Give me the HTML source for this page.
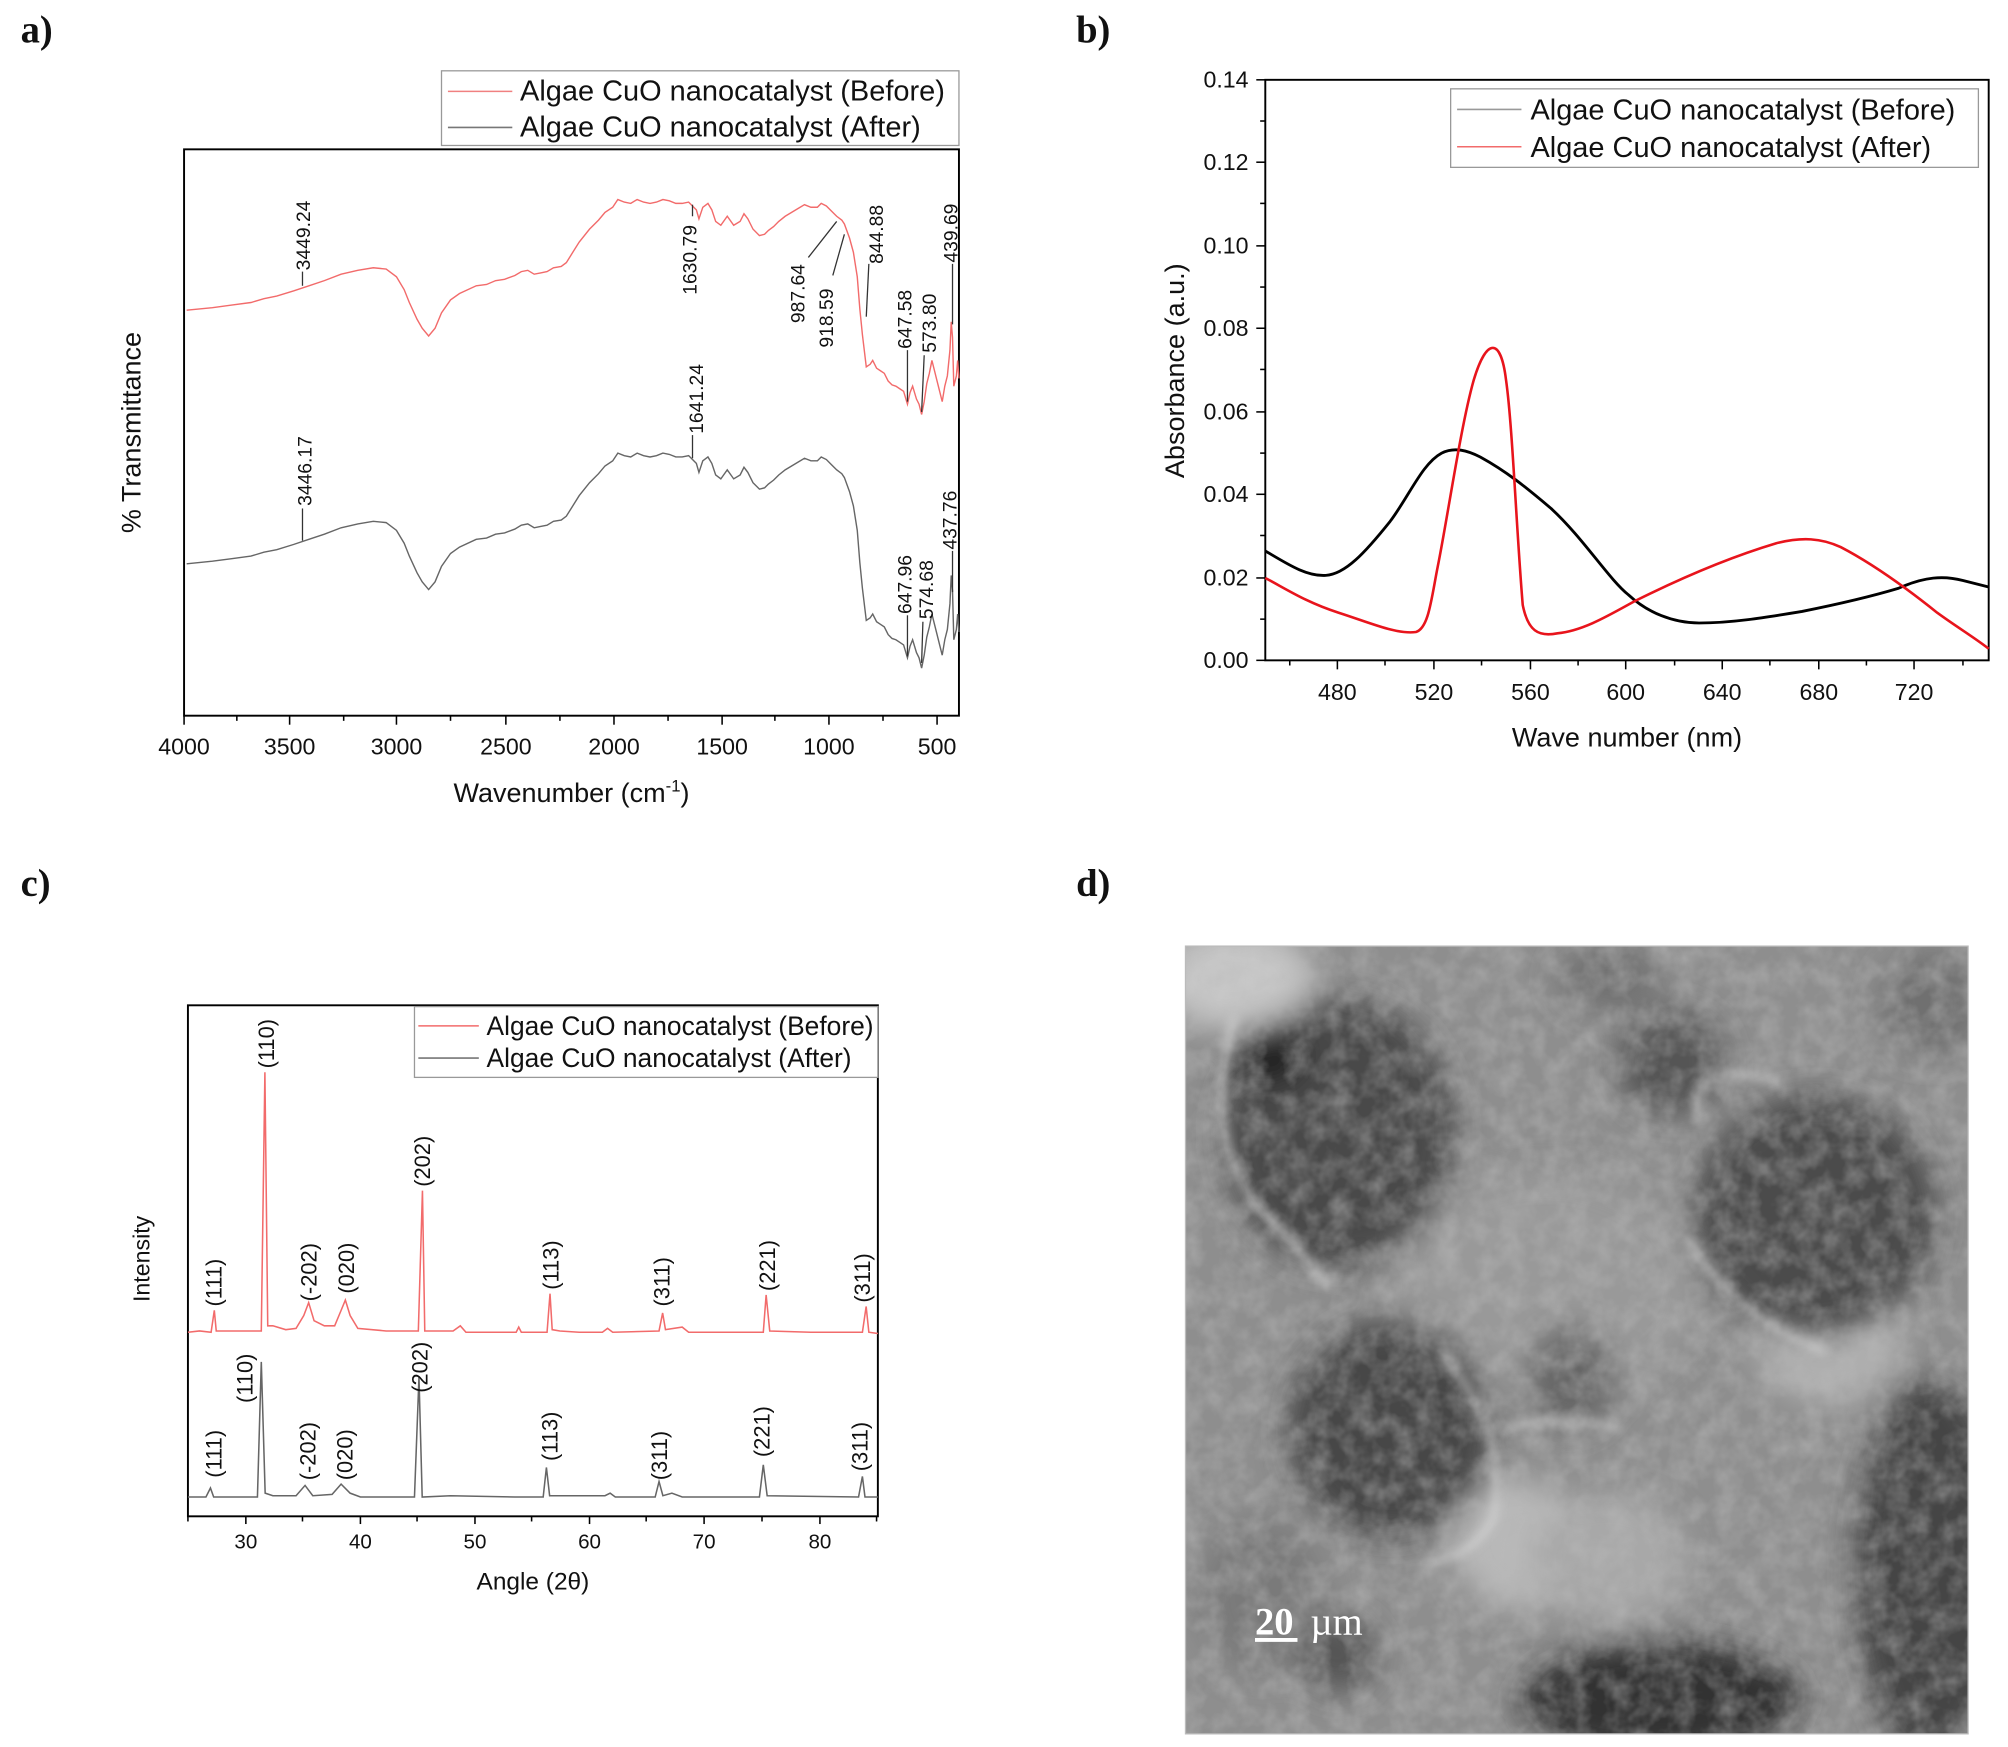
<!DOCTYPE html>
<html><head><style>
html,body{margin:0;padding:0;background:#fff;}
svg{display:block;}
text{font-family:"Liberation Sans",Arial,sans-serif;fill:#111;}
.pl{font-family:"Liberation Serif",serif;font-weight:bold;font-size:30px;}
.tk{font-size:18px;}
.ti{font-size:21px;}
.lg{font-size:22.5px;}
.an{font-size:15px;}
.xa{font-size:19px;}
</style></head><body>
<svg width="2008" height="1747" viewBox="0 0 1560 1357.2" xmlns="http://www.w3.org/2000/svg">
<defs>
<filter id="bl" x="-50%" y="-50%" width="200%" height="200%"><feGaussianBlur stdDeviation="12"/></filter>
<filter id="bl2" x="-50%" y="-50%" width="200%" height="200%"><feGaussianBlur stdDeviation="4"/></filter>
<filter id="noise" x="0" y="0" width="100%" height="100%">
<feTurbulence type="fractalNoise" baseFrequency="0.06" numOctaves="3" seed="4"/>
<feColorMatrix type="matrix" values="0 0 0 0 0.5  0 0 0 0 0.5  0 0 0 0 0.5  1.4 0 0 0 -0.45"/>
</filter>
<clipPath id="cd"><rect x="921" y="735" width="608" height="612"/></clipPath>
<path id="ftir" fill="none" d="M145,241 L165,239 L180,237 L195,235 L205,232 L215,230 L228,226 L240,222 L252,218 L265,213 L278,210 L290,208 L300,209 L308,215 L314,225 L318,235 L324,248 L328,255 L333,261 L338,255 L343,243 L350,233 L357,228 L370,222 L378,221 L385,218 L392,217 L400,214 L405,211 L410,210 L415,213 L420,212 L425,211 L430,208 L436,207 L440,204 L445,196 L450,188 L458,178 L465,171 L470,165 L476,161 L480,155 L485,157 L490,158 L495,155 L500,157 L505,158 L510,157 L515,155 L520,156 L525,158 L530,158 L535,157 L538,160 L541,163 L543,170 L546,161 L550,158 L553,163 L556,172 L560,175 L565,168 L570,175 L575,172 L578,166 L581,170 L585,178 L590,183 L594,182 L597,179 L601,176 L605,172 L610,168 L615,165 L620,162 L625,159 L630,161 L635,161 L638,158 L642,160 L646,164 L650,168 L654,171 L656,174 L660,185 L663,196 L666,215 L668,240 L670,260 L673,285 L676,283 L678,280 L681,286 L684,288 L687,290 L690,296 L693,299 L696,300 L699,302 L702,304 L705,314 L707,305 L709,300 L712,310 L714,314 L716,322 L718,312 L720,298 L722,290 L724,280 L726,288 L728,296 L730,304 L732,312 L734,300 L736,292 L738,272 L739,250 L740,262 L741,300 L743,292 L744,280 L745,294"/>
</defs>
<rect width="1560" height="1357.2" fill="#fff"/>
<text class="pl" x="16" y="33">a)</text>
<text class="pl" x="836" y="33">b)</text>
<text class="pl" x="16" y="696">c)</text>
<text class="pl" x="836" y="696">d)</text>

<!-- Panel a -->
<rect x="143" y="116" width="602" height="440" fill="none" stroke="#000" stroke-width="1.5"/>
<g stroke="#000" stroke-width="1.2">
<line x1="143" y1="556" x2="143" y2="563"/><line x1="225" y1="556" x2="225" y2="563"/><line x1="308" y1="556" x2="308" y2="563"/><line x1="393" y1="556" x2="393" y2="563"/><line x1="477" y1="556" x2="477" y2="563"/><line x1="561" y1="556" x2="561" y2="563"/><line x1="644" y1="556" x2="644" y2="563"/><line x1="728" y1="556" x2="728" y2="563"/>
<line x1="184" y1="556" x2="184" y2="560"/><line x1="267" y1="556" x2="267" y2="560"/><line x1="350" y1="556" x2="350" y2="560"/><line x1="435" y1="556" x2="435" y2="560"/><line x1="519" y1="556" x2="519" y2="560"/><line x1="602" y1="556" x2="602" y2="560"/><line x1="686" y1="556" x2="686" y2="560"/>
</g>
<g class="tk" text-anchor="middle">
<text x="143" y="586">4000</text><text x="225" y="586">3500</text><text x="308" y="586">3000</text><text x="393" y="586">2500</text><text x="477" y="586">2000</text><text x="561" y="586">1500</text><text x="644" y="586">1000</text><text x="728" y="586">500</text>
</g>
<text class="ti" x="444" y="623" text-anchor="middle">Wavenumber (cm<tspan font-size="13" dy="-8">-1</tspan><tspan dy="8">)</tspan></text>
<text class="ti" transform="rotate(-90 109 336)" x="109" y="336" text-anchor="middle">% Transmittance</text>
<rect x="343" y="55" width="402" height="58" fill="#fff" stroke="#999" stroke-width="1"/>
<line x1="348" y1="71" x2="398" y2="71" stroke="#f08080" stroke-width="1.2"/>
<line x1="348" y1="99" x2="398" y2="99" stroke="#777" stroke-width="1.2"/>
<text class="lg" x="404" y="78">Algae CuO nanocatalyst (Before)</text>
<text class="lg" x="404" y="106">Algae CuO nanocatalyst (After)</text>
<use href="#ftir" stroke="#f26b6b" stroke-width="1.1"/>
<use href="#ftir" transform="translate(0,197)" stroke="#666" stroke-width="1.1"/>
<g stroke="#333" stroke-width="1">
<line x1="235" y1="222" x2="235" y2="211"/><line x1="538" y1="159" x2="538" y2="168"/>
<line x1="628" y1="200" x2="650" y2="172"/><line x1="647" y1="214" x2="656" y2="182"/>
<line x1="673" y1="246" x2="675" y2="205"/><line x1="705" y1="312" x2="705" y2="272"/>
<line x1="716" y1="320" x2="718" y2="276"/><line x1="740" y1="252" x2="740" y2="205"/>
<line x1="235" y1="420" x2="235" y2="395"/><line x1="538" y1="356" x2="538" y2="338"/>
<line x1="705" y1="510" x2="705" y2="478"/><line x1="716" y1="515" x2="717" y2="483"/><line x1="740" y1="460" x2="740" y2="428"/>
</g>
<g class="an">
<text transform="rotate(-90 241 210)" x="241" y="210">3449.24</text>
<text transform="rotate(-90 541 229)" x="541" y="229">1630.79</text>
<text transform="rotate(-90 625 251)" x="625" y="251">987.64</text>
<text transform="rotate(-90 647 270)" x="647" y="270">918.59</text>
<text transform="rotate(-90 686 205)" x="686" y="205">844.88</text>
<text transform="rotate(-90 708 271)" x="708" y="271">647.58</text>
<text transform="rotate(-90 727 274)" x="727" y="274">573.80</text>
<text transform="rotate(-90 744 204)" x="744" y="204">439.69</text>
<text transform="rotate(-90 242 393)" x="242" y="393">3446.17</text>
<text transform="rotate(-90 546 337)" x="546" y="337">1641.24</text>
<text transform="rotate(-90 708 477)" x="708" y="477">647.96</text>
<text transform="rotate(-90 725 481)" x="725" y="481">574.68</text>
<text transform="rotate(-90 743 427)" x="743" y="427">437.76</text>
</g>

<!-- Panel b -->
<rect x="983" y="62" width="562" height="451" fill="none" stroke="#000" stroke-width="1.5"/>
<g stroke="#000" stroke-width="1.2">
<line x1="976" y1="513" x2="983" y2="513"/><line x1="976" y1="449" x2="983" y2="449"/><line x1="976" y1="384" x2="983" y2="384"/><line x1="976" y1="320" x2="983" y2="320"/><line x1="976" y1="255" x2="983" y2="255"/><line x1="976" y1="191" x2="983" y2="191"/><line x1="976" y1="126" x2="983" y2="126"/><line x1="976" y1="62" x2="983" y2="62"/>
<line x1="979" y1="481" x2="983" y2="481"/><line x1="979" y1="416" x2="983" y2="416"/><line x1="979" y1="352" x2="983" y2="352"/><line x1="979" y1="287" x2="983" y2="287"/><line x1="979" y1="223" x2="983" y2="223"/><line x1="979" y1="158" x2="983" y2="158"/><line x1="979" y1="94" x2="983" y2="94"/>
<line x1="1039" y1="513" x2="1039" y2="520"/><line x1="1114" y1="513" x2="1114" y2="520"/><line x1="1189" y1="513" x2="1189" y2="520"/><line x1="1263" y1="513" x2="1263" y2="520"/><line x1="1338" y1="513" x2="1338" y2="520"/><line x1="1413" y1="513" x2="1413" y2="520"/><line x1="1487" y1="513" x2="1487" y2="520"/>
<line x1="1002" y1="513" x2="1002" y2="517"/><line x1="1076" y1="513" x2="1076" y2="517"/><line x1="1151" y1="513" x2="1151" y2="517"/><line x1="1226" y1="513" x2="1226" y2="517"/><line x1="1301" y1="513" x2="1301" y2="517"/><line x1="1375" y1="513" x2="1375" y2="517"/><line x1="1450" y1="513" x2="1450" y2="517"/><line x1="1525" y1="513" x2="1525" y2="517"/>
</g>
<g class="tk" text-anchor="end">
<text x="970" y="519">0.00</text><text x="970" y="455">0.02</text><text x="970" y="390">0.04</text><text x="970" y="326">0.06</text><text x="970" y="261">0.08</text><text x="970" y="197">0.10</text><text x="970" y="132">0.12</text><text x="970" y="68">0.14</text>
</g>
<g class="tk" text-anchor="middle">
<text x="1039" y="544">480</text><text x="1114" y="544">520</text><text x="1189" y="544">560</text><text x="1263" y="544">600</text><text x="1338" y="544">640</text><text x="1413" y="544">680</text><text x="1487" y="544">720</text>
</g>
<text class="ti" x="1264" y="580" text-anchor="middle">Wave number (nm)</text>
<text class="ti" transform="rotate(-90 920 288)" x="920" y="288" text-anchor="middle">Absorbance (a.u.)</text>
<rect x="1127" y="69" width="410" height="61" fill="#fff" stroke="#999" stroke-width="1"/>
<line x1="1132" y1="85" x2="1182" y2="85" stroke="#999" stroke-width="1.2"/>
<line x1="1132" y1="114" x2="1182" y2="114" stroke="#f26b6b" stroke-width="1.2"/>
<text class="lg" x="1189" y="93">Algae CuO nanocatalyst (Before)</text>
<text class="lg" x="1189" y="122">Algae CuO nanocatalyst (After)</text>
<path fill="none" stroke="#000" stroke-width="2.2" d="M983,428 C1000,438 1015,448 1030,447 C1045,446 1060,430 1080,405 C1095,385 1105,360 1120,352 C1130,347 1140,350 1150,355 C1170,366 1185,378 1205,395 C1230,418 1250,450 1265,462 C1280,476 1300,484 1320,484 C1345,484 1370,480 1400,475 C1430,469 1455,463 1475,457 C1495,448 1510,447 1525,451 L1545,456"/>
<path fill="none" stroke="#e8141c" stroke-width="2" d="M983,449 C1000,458 1015,468 1040,476 C1065,484 1085,493 1100,491 C1110,488 1112,465 1117,440 C1125,400 1135,330 1145,295 C1155,262 1166,262 1170,295 C1175,330 1178,410 1183,470 C1187,490 1195,495 1210,492 C1230,490 1250,478 1270,467 C1300,452 1340,434 1380,422 C1400,417 1415,418 1430,425 C1455,438 1480,456 1505,476 C1520,487 1535,496 1545,504"/>

<!-- Panel c -->
<rect x="146" y="781" width="536" height="397" fill="none" stroke="#000" stroke-width="1.5"/>
<g stroke="#000" stroke-width="1.2">
<line x1="191" y1="1178" x2="191" y2="1184"/><line x1="280" y1="1178" x2="280" y2="1184"/><line x1="369" y1="1178" x2="369" y2="1184"/><line x1="458" y1="1178" x2="458" y2="1184"/><line x1="547" y1="1178" x2="547" y2="1184"/><line x1="637" y1="1178" x2="637" y2="1184"/>
<line x1="146" y1="1178" x2="146" y2="1182"/><line x1="235" y1="1178" x2="235" y2="1182"/><line x1="324" y1="1178" x2="324" y2="1182"/><line x1="413" y1="1178" x2="413" y2="1182"/><line x1="502" y1="1178" x2="502" y2="1182"/><line x1="592" y1="1178" x2="592" y2="1182"/><line x1="681" y1="1178" x2="681" y2="1182"/>
</g>
<g class="xa" text-anchor="middle" style="font-size:16px">
<text x="191" y="1203">30</text><text x="280" y="1203">40</text><text x="369" y="1203">50</text><text x="458" y="1203">60</text><text x="547" y="1203">70</text><text x="637" y="1203">80</text>
</g>
<text class="ti" style="font-size:19px" x="414" y="1235" text-anchor="middle">Angle (2θ)</text>
<text class="ti" style="font-size:18px" transform="rotate(-90 116 978)" x="116" y="978" text-anchor="middle">Intensity</text>
<rect x="322" y="782" width="360" height="55" fill="#fff" stroke="#999" stroke-width="1"/>
<line x1="325" y1="797" x2="372" y2="797" stroke="#f26b6b" stroke-width="1.2"/>
<line x1="325" y1="822" x2="372" y2="822" stroke="#777" stroke-width="1.2"/>
<text class="lg" style="font-size:20.5px" x="378" y="804">Algae CuO nanocatalyst (Before)</text>
<text class="lg" style="font-size:20.5px" x="378" y="829">Algae CuO nanocatalyst (After)</text>
<path fill="none" stroke="#f26b6b" stroke-width="1.2" d="M146,1035 L155,1034 L164,1035 L166.5,1018 L168,1034 L185,1034 L203,1034 L205.8,833 L208,1030 L212,1030 L222,1033 L230,1032 L236,1022 L239.8,1012 L244,1026 L252,1030 L260,1030 L265,1018 L268.3,1010 L272,1022 L278,1032 L300,1034 L325,1034 L328.2,925 L330,1034 L352,1034 L357.6,1030 L362,1035 L401,1035 L403,1031 L405,1035 L425,1035 L427.3,1005 L429,1033 L435,1034 L450,1035 L468,1035 L472,1032 L476,1035 L512,1034 L514.8,1020 L517,1033 L530,1031 L535,1035 L560,1035 L593,1035 L595.2,1006 L598,1034 L630,1035 L670,1035 L672.9,1015 L675,1035 L682,1036"/>
<path fill="none" stroke="#666" stroke-width="1.2" d="M146,1163 L160,1163 L163.5,1156 L166,1163 L200,1163 L203,1058 L206,1160 L212,1162 L230,1162 L237,1154 L243,1162 L258,1161 L265,1153 L272,1160 L280,1163 L322,1163 L325.5,1070 L328,1163 L350,1162 L400,1163 L422,1163 L424.5,1140 L427,1162 L470,1162 L474,1160 L478,1163 L509,1163 L512,1151 L515,1162 L522,1160 L530,1163 L590,1163 L593,1138 L596,1162 L667,1163 L670,1147 L672,1163 L682,1163"/>
<g class="an" style="font-size:17px">
<text transform="rotate(-90 172 1015)" x="172" y="1015">(111)</text>
<text transform="rotate(-90 213 830)" x="213" y="830">(110)</text>
<text transform="rotate(-90 246 1011)" x="246" y="1011">(-202)</text>
<text transform="rotate(-90 275 1005)" x="275" y="1005">(020)</text>
<text transform="rotate(-90 334 922)" x="334" y="922">(202)</text>
<text transform="rotate(-90 434 1002)" x="434" y="1002">(113)</text>
<text transform="rotate(-90 520 1015)" x="520" y="1015">(311)</text>
<text transform="rotate(-90 602 1003)" x="602" y="1003">(221)</text>
<text transform="rotate(-90 676 1012)" x="676" y="1012">(311)</text>
<text transform="rotate(-90 172 1148)" x="172" y="1148">(111)</text>
<text transform="rotate(-90 196 1090)" x="196" y="1090">(110)</text>
<text transform="rotate(-90 245 1150)" x="245" y="1150">(-202)</text>
<text transform="rotate(-90 274 1150)" x="274" y="1150">(020)</text>
<text transform="rotate(-90 332 1082)" x="332" y="1082">(202)</text>
<text transform="rotate(-90 433 1135)" x="433" y="1135">(113)</text>
<text transform="rotate(-90 518 1150)" x="518" y="1150">(311)</text>
<text transform="rotate(-90 598 1132)" x="598" y="1132">(221)</text>
<text transform="rotate(-90 674 1143)" x="674" y="1143">(311)</text>
</g>

<!-- Panel d TEM -->
<g clip-path="url(#cd)">
<rect x="921" y="735" width="608" height="612" fill="#8e8e8e"/>
<g filter="url(#bl)">
<ellipse cx="960" cy="760" rx="60" ry="40" fill="#c8c8c8"/>
<ellipse cx="1200" cy="1000" rx="120" ry="90" fill="#999"/>
<ellipse cx="1420" cy="1030" rx="60" ry="60" fill="#b0b0b0"/>
<ellipse cx="1180" cy="1200" rx="50" ry="50" fill="#b8b8b8"/>
<ellipse cx="1250" cy="1210" rx="60" ry="50" fill="#a8a8a8"/>
<ellipse cx="980" cy="1240" rx="50" ry="60" fill="#7a7a7a"/>
<ellipse cx="1040" cy="880" rx="90" ry="105" fill="#4a4a4a"/>
<ellipse cx="985" cy="820" rx="30" ry="25" fill="#222"/>
<ellipse cx="1298" cy="825" rx="42" ry="42" fill="#555"/>
<ellipse cx="1410" cy="945" rx="95" ry="95" fill="#4c4c4c"/>
<ellipse cx="1080" cy="1110" rx="80" ry="85" fill="#464646"/>
<ellipse cx="1500" cy="1220" rx="60" ry="150" fill="#444"/>
<ellipse cx="1290" cy="1320" rx="110" ry="45" fill="#333"/>
<ellipse cx="1040" cy="1285" rx="30" ry="30" fill="#555"/>
<ellipse cx="1220" cy="1070" rx="35" ry="40" fill="#666"/>
<ellipse cx="1500" cy="780" rx="40" ry="40" fill="#707070"/>
<ellipse cx="1250" cy="760" rx="40" ry="25" fill="#707070"/>
</g>
<rect x="921" y="735" width="608" height="612" filter="url(#noise)" opacity="0.6"/>
<g filter="url(#bl2)" fill="none" stroke="#e8e8e8" stroke-width="4" opacity="0.7">
<path d="M960,790 C940,840 945,900 980,940 C1010,970 1030,1000 1035,1000"/>
<path d="M1120,1050 C1150,1090 1170,1130 1160,1180 C1150,1200 1130,1210 1110,1215"/>
<path d="M1320,870 C1310,830 1350,830 1380,840"/>
<path d="M1310,960 C1330,1000 1380,1040 1420,1050"/>
<path d="M1170,1110 C1200,1100 1240,1105 1260,1110"/>
</g>
</g>
<rect x="921" y="735" width="608" height="612" fill="none" stroke="#bbb" stroke-width="1"/>
<text x="975" y="1270" style="fill:#fff;font-family:'Liberation Serif',serif;font-size:30px;font-weight:bold;">20</text>
<line x1="975" y1="1274" x2="1008" y2="1274" stroke="#fff" stroke-width="3"/>
<text x="1018" y="1270" style="fill:#fff;font-family:'Liberation Serif',serif;font-size:30px;">µm</text>
</svg>
</body></html>
